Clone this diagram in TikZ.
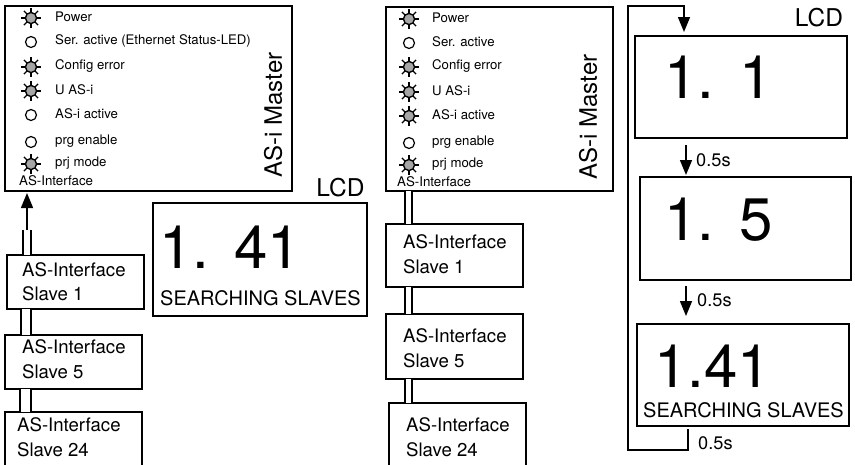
\documentclass[tikz,border=0pt]{standalone}
\usepackage{fontspec}
\setmainfont{TeX Gyre Heros}
\usetikzlibrary{arrows.meta}
\definecolor{ledGrey}{HTML}{A6A6A6}

\tikzset{
  boxline/.style={draw=black, line width=1.5pt, inner sep=0pt, outer sep=0pt},
  masterbox/.style={boxline},
  slavebox/.style={boxline, minimum width=137pt},
  lcdbox/.style={boxline},
  ledlamp/.style={circle, draw=black, line width=1.2pt, minimum size=11pt, inner sep=0pt, outer sep=0pt},
  ledray/.style={line width=1.3pt},
  ledtext/.style={anchor=west, inner sep=0pt, font=\fontsize{13.2}{15}\selectfont},
  iftext/.style={anchor=west, inner sep=0pt, font=\fontsize{13.3}{15}\selectfont},
  mastertext/.style={rotate=90, inner sep=0pt, font=\fontsize{24}{28}\selectfont},
  slavetext/.style={anchor=west, align=left, inner sep=0pt, font=\fontsize{18.6}{24.5}\selectfont},
  lcdtitle/.style={inner sep=0pt, font=\fontsize{24.5}{28}\selectfont},
  lcdnumber/.style={anchor=base west, inner sep=0pt, font=\fontsize{60}{70}\selectfont},
  lcdstatus/.style={anchor=west, inner sep=0pt, font=\fontsize{20}{22}\selectfont},
  timetext/.style={anchor=west, inner sep=0pt, font=\fontsize{18.2}{20}\selectfont},
  busline/.style={double, line width=1.3pt},
  flowline/.style={line width=1.5pt},
  flowarrow/.style={flowline, -{Triangle[length=15pt, width=12pt]}},
}

\begin{document}
\begin{tikzpicture}[x=1pt, y=-1pt]
  \useasboundingbox (0,0) rectangle (855,464);
  \clip (0,0) rectangle (855,464);
  % master panels
  \node[masterbox, minimum width=287pt, minimum height=185pt] (masterA) at (148.5,98.5) {};
  \node[masterbox, minimum width=227pt, minimum height=184pt] (masterB) at (499.5,99) {};
  \node[mastertext] (masterAname) at (273,115) {AS-i Master};
  \node[mastertext] (masterBname) at (588,117) {AS-i Master};
  \node[iftext] (ifA) at (19,181) {AS-Interface};
  \node[iftext] (ifB) at (397,182) {AS-Interface};

  % LED rows: name / lamp x / lamp y / text x / lit / text
  \foreach \n/\lx/\ly/\tx/\lit/\txt in
    {a1/31/18/55/1/Power, a2/31/42/55/0/Ser. active (Ethernet Status-LED),
     a3/31/67/55/1/Config error, a4/31/91/55/1/U AS-i,
     a5/31/115/55/0/AS-i active, a6/31/142/55/0/prg enable,
     a7/31/164/55/1/prj mode,
     b1/409/19/432/1/Power, b2/409/43/432/0/Ser. active,
     b3/409/67/432/1/Config error, b4/409/92/432/1/U AS-i,
     b5/409/116/432/1/AS-i active, b6/409/143/432/0/prg enable,
     b7/409/165/432/1/prj mode}{
    \node[ledlamp] (led\n) at (\lx,\ly) {};
    \node[ledtext] (ledtext\n) at (\tx,\ly-1) {\txt};
    \ifnum\lit=1
      \fill[ledGrey, draw=black, line width=1.2pt] (led\n) circle (5.5pt);
      \foreach \a in {0,45,...,315}{
        \draw[ledray] (led\n.\a) -- ([shift={(\a:10pt)}]led\n.center);
      }
    \fi
  }

  % slave boxes: name / box centre / height / text position / text
  \foreach \n/\cx/\cy/\h/\tx/\ty/\nr in
    {slaveAa/75.5/282/54/22/281.5/1, slaveAb/73.5/362/54/22/359/5, slaveAc/73.5/441/58/17/437/24,
     slaveBa/454.5/255.5/63/403/254/1, slaveBb/454.5/346.5/65/403/348/5, slaveBc/457.5/441/76/406/437/24}{
    \node[slavebox, minimum height=\h pt] (\n) at (\cx,\cy) {};
    \node[slavetext] (\n text) at (\tx,\ty) {AS-Interface\\Slave \nr};
  }

  % bus between master and slaves
  \coordinate (busEnd) at (27,230);
  \draw[busline, double distance=6.7pt] (busEnd) -- ([xshift=20pt]slaveAa.north west);
  \foreach \a/\b/\sa/\sb/\d in
    {slaveAa/slaveAb/19/21/8.7, slaveAb/slaveAc/20.5/20.5/9.7,
     masterB/slaveBa/22.5/22.5/5.5, slaveBa/slaveBb/22.5/22.5/5.5, slaveBb/slaveBc/22.5/19.5/5.5}{
    \draw[busline, double distance=\d pt] ([xshift=\sa pt]\a.south west) -- ([xshift=\sb pt]\b.north west);
  }
  \draw[flowarrow, shorten >=2pt] (busEnd) -- ([xshift=22pt]masterA.south west);

  % single LCD
  \node[lcdbox, minimum width=214pt, minimum height=113pt] (lcdMain) at (260,259.5) {};
  \node[lcdtitle] (lcdMainTitle) at (340.5,188) {LCD};
  \node[lcdnumber] (lcdMainNum) at (159,268) {1. \kern3pt 41};
  \node[lcdstatus] (lcdMainStatus) at (160,298) {SEARCHING SLAVES};

  % LCD sequence
  \node[lcdbox, minimum width=212pt, minimum height=102pt] (lcdA) at (741,87) {};
  \node[lcdbox, minimum width=211pt, minimum height=103pt] (lcdB) at (745.5,228.5) {};
  \node[lcdbox, minimum width=212pt, minimum height=102pt] (lcdC) at (743,375) {};
  \node[lcdtitle] (lcdTitle) at (819,18) {LCD};
  \node[lcdnumber] (lcdAnum) at (664,98) {1. \kern3pt 1};
  \node[lcdnumber] (lcdBnum) at (664,240) {1. \kern3pt 5};
  \node[lcdnumber] (lcdCnum) at (654,387) {1.41};
  \node[lcdstatus] (lcdCstatus) at (643,410) {SEARCHING SLAVES};

  \draw[flowarrow, shorten <=7pt, shorten >=2pt] ([xshift=-55pt]lcdA.south) -- ([xshift=-59.5pt]lcdB.north);
  \draw[flowarrow, shorten <=6pt, shorten >=8pt] ([xshift=-59.5pt]lcdB.south) -- ([xshift=-57pt]lcdC.north);
  \node[timetext] (timeA) at (696,160) {0.5s};
  \node[timetext] (timeB) at (697,300) {0.5s};
  \node[timetext] (timeC) at (698,443) {0.5s};

  % return path
  \coordinate (loopLow) at (628,450);
  \coordinate (loopHigh) at (628,6);
  \draw[flowarrow, shorten <=3pt, shorten >=4pt] ([xshift=-55pt]lcdC.south) |- (loopLow) -- (loopHigh) -| ([xshift=-57pt]lcdA.north);
\end{tikzpicture}
\end{document}
